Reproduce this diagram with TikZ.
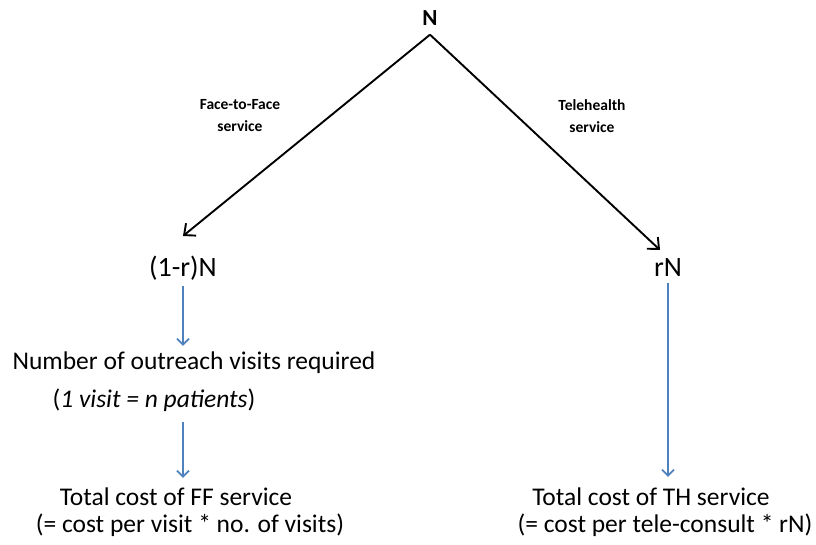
\documentclass[tikz,border=0pt]{standalone}
\usepackage{fontspec}
\setmainfont{Carlito}
\usetikzlibrary{arrows.meta}
\definecolor{flowblue}{RGB}{79,129,189}

\begin{document}
\begin{tikzpicture}[x=1pt,y=-1pt,
    big/.style={font=\fontsize{25.5}{30}\selectfont, inner sep=0pt},
    head/.style={font=\fontsize{28}{32}\selectfont, inner sep=0pt},
    lab/.style={font=\bfseries\fontsize{15.5}{22}\selectfont, align=center},
    blk/.style={-{Straight Barb[length=9pt,width=16pt]}, line width=1.9pt},
    blu/.style={-{Straight Barb[length=6pt,width=12pt]}, flowblue, line width=1.7pt}]
  \useasboundingbox (0,0) rectangle (816,545);
  % root and branch labels
  \node[inner xsep=0pt, inner ysep=9pt, font=\bfseries\fontsize{23}{26}\selectfont] (top) at (430,18) {N};
  \node[lab] (fflab) at (240,116) {Face-to-Face\\service};
  \node[lab] (thlab) at (592,116) {Telehealth\\service};
  % face-to-face side
  \node[head] (ff) at (183,268) {(1-r)N};
  \coordinate (ffin) at (183,236);
  \node[big] (visits) at (194,363) {Number of outreach visits required};
  \node[big] (ratio) at (154,400) {(\textit{1 visit = n patients})};
  \node[big] (ffcost) at (176,497) {Total cost of FF service};
  \node[big] (ffcalc) at (190,525) {(= cost per visit * no. of visits)};
  % telehealth side
  \node[head] (th) at (668,268) {rN};
  \coordinate (thin) at (660,250);
  \node[big] (thcost) at (651,497) {Total cost of TH service};
  \node[big] (thcalc) at (665,525) {(= cost per tele-consult * rN)};
  % connectors
  \draw[blk] (top.south) -- (ffin);
  \draw[blk] (top.south) -- (thin);
  \draw[blu, shorten <=6pt, shorten >=6pt] (ff.south) -- (ff |- visits.north);
  \draw[blu, shorten <=10pt, shorten >=10pt] (ff |- ratio.south) -- (ff |- ffcost.north);
  \draw[blu, shorten <=6pt, shorten >=11pt] (th.south) -- (th |- thcost.north);
\end{tikzpicture}
\end{document}
